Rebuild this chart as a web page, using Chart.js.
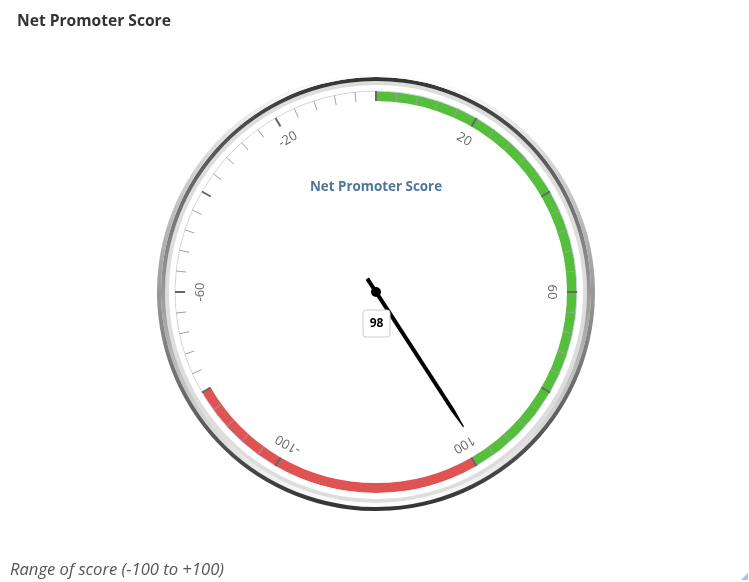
<!DOCTYPE html>
<html>
<head>
<meta charset="utf-8">
<script src="https://cdn.jsdelivr.net/npm/chart.js@4.4.1/dist/chart.umd.min.js"></script>
<style>
  html, body { margin: 0; padding: 0; background: #fff; }
  body { width: 749px; height: 582px; position: relative; overflow: hidden; font-family: "Open Sans", sans-serif; }
  #title { position: absolute; left: 17px; top: 9px; font-size: 15.6px; font-weight: bold; color: #333; }
  #caption { position: absolute; left: 10px; top: 557px; font-size: 16.6px; font-style: italic; color: #555; }
  #grip { position: absolute; left: 741px; top: 573px; width: 0; height: 0;
          border-left: 7px solid transparent; border-bottom: 7px solid #a9c2e0; }
  canvas { position: absolute; left: 0; top: 0; }
</style>
</head>
<body>
<canvas id="gauge" width="749" height="582"></canvas>
<div id="title">Net Promoter Score</div>
<div id="caption">Range of score (-100 to +100)</div>
<div id="grip"></div>
<script>
// scale
const scaleMin = -100;
const scaleMax = 100;
const paneStart = -150;
const paneEnd = 150;
const minorStep = 4;
const majorStep = 20;
const labelValues = [-100, -60, -20, 20, 60, 100];

// plot bands
const bandFrom = [0, -140];
const bandTo = [100, -80];
const bandColors = ['#55BF3B', '#DF5353'];

// the reading
const score = 98;
const gaugeTitle = 'Net Promoter Score';

// units that make a whole turn of the dial
const fullUnits = (scaleMax - scaleMin) * 360 / (paneEnd - paneStart);

function wrapPos (v) {
  const p = (v - scaleMin) % fullUnits;
  return p < 0 ? p + fullUnits : p;
}

// one slice per minor tick, plus the empty gap under the dial
function tickSlices () {
  const out = [];
  for (let v = scaleMin; v < scaleMax; v += minorStep) out.push(minorStep);
  out.push(fullUnits - (scaleMax - scaleMin));
  return out;
}

// band ring split into slices, walking round from scaleMin
function bandSlices () {
  let cuts = [0, fullUnits];
  for (let i = 0; i < bandFrom.length; i++) {
    cuts.push(wrapPos(bandFrom[i]), wrapPos(bandTo[i]));
  }
  cuts = [...new Set(cuts)].sort((a, b) => a - b);
  const values = [];
  const colors = [];
  for (let k = 0; k < cuts.length - 1; k++) {
    const a = cuts[k], b = cuts[k + 1];
    const mid = (a + b) / 2;
    let color = 'rgba(0,0,0,0)';
    for (let i = 0; i < bandFrom.length; i++) {
      const s = wrapPos(bandFrom[i]), e = wrapPos(bandTo[i]);
      const inside = s < e ? (mid > s && mid < e) : (mid > s || mid < e);
      if (inside) color = bandColors[i];
    }
    values.push(b - a);
    colors.push(color);
  }
  return {values, colors};
}

function ringGradient (top, bottom) {
  return (ctx) => {
    const area = ctx.chart.chartArea;
    if (!area) return top;
    const g = ctx.chart.ctx.createLinearGradient(0, area.top, 0, area.bottom);
    g.addColorStop(0, top);
    g.addColorStop(1, bottom);
    return g;
  };
}

const bands = bandSlices();
const clear = 'rgba(0,0,0,0)';

const gaugeDecor = {
  id: 'gaugeDecor',
  afterDatasetsDraw (chart) {
    const ctx = chart.ctx;
    const bandArc = chart.getDatasetMeta(4).data[0];
    const ticks = chart.getDatasetMeta(5).data;
    const needle = chart.getDatasetMeta(6).data[0];
    const cx = bandArc.x, cy = bandArc.y;
    const R = bandArc.outerRadius;

    ctx.save();
    // axis line
    ctx.beginPath();
    ctx.arc(cx, cy, R, ticks[0].startAngle, ticks[ticks.length - 2].endAngle);
    ctx.strokeStyle = '#ccd6eb';
    ctx.lineWidth = 1;
    ctx.stroke();

    // ticks
    for (let i = 0; i < ticks.length; i++) {
      const value = scaleMin + i * minorStep;
      const major = (value - scaleMin) % majorStep === 0;
      const a = ticks[i].startAngle;
      const len = 10;
      ctx.beginPath();
      ctx.moveTo(cx + Math.cos(a) * R, cy + Math.sin(a) * R);
      ctx.lineTo(cx + Math.cos(a) * (R - len), cy + Math.sin(a) * (R - len));
      ctx.strokeStyle = major ? '#666666' : '#a0a0a0';
      ctx.lineWidth = major ? 2 : 1;
      ctx.stroke();
    }

    // tick labels
    ctx.font = '13px "Open Sans", sans-serif';
    ctx.fillStyle = '#666';
    ctx.textAlign = 'center';
    ctx.textBaseline = 'middle';
    for (const v of labelValues) {
      const a = ticks[(v - scaleMin) / minorStep].startAngle;
      const r = R - 25;
      ctx.save();
      ctx.translate(cx + Math.cos(a) * r, cy + Math.sin(a) * r);
      ctx.rotate(a + Math.PI / 2);
      ctx.fillText(String(v), 0, 0);
      ctx.restore();
    }

    // title inside the pane
    ctx.font = 'bold 13.4px "Open Sans", sans-serif';
    ctx.fillStyle = '#4d759e';
    ctx.fillText(gaugeTitle, cx, cy - 105);

    // needle
    const a = needle.endAngle;
    ctx.save();
    ctx.translate(cx, cy);
    ctx.rotate(a);
    ctx.beginPath();
    ctx.moveTo(-16, -2);
    ctx.lineTo(R * 0.7, -2);
    ctx.lineTo(R * 0.8, -0.5);
    ctx.lineTo(R * 0.8, 0.5);
    ctx.lineTo(R * 0.7, 2);
    ctx.lineTo(-16, 2);
    ctx.closePath();
    ctx.fillStyle = '#000';
    ctx.fill();
    ctx.restore();

    // pivot
    ctx.beginPath();
    ctx.arc(cx, cy, 5, 0, Math.PI * 2);
    ctx.fillStyle = '#000';
    ctx.fill();

    // data label
    const bw = 27, bh = 27, by = cy + 31;
    ctx.beginPath();
    ctx.roundRect(cx - bw / 2 + 0.5, by - bh / 2 + 0.5, bw, bh, 3);
    ctx.fillStyle = '#fff';
    ctx.fill();
    ctx.strokeStyle = '#cccccc';
    ctx.lineWidth = 1;
    ctx.stroke();
    ctx.font = 'bold 12px "Open Sans", sans-serif';
    ctx.fillStyle = '#000';
    ctx.fillText(String(score), cx + 0.5, by + 1);
    ctx.restore();
  }
};

const common = { rotation: paneStart, circumference: 360, borderWidth: 0, hoverBorderWidth: 0, hoverOffset: 0 };

new Chart(document.getElementById('gauge'), {
  type: 'doughnut',
  data: {
    datasets: [
      { ...common, data: [1], weight: 4, backgroundColor: ringGradient('#ffffff', '#333333') },
      { ...common, data: [1], weight: 4, backgroundColor: ringGradient('#333333', '#ffffff') },
      { ...common, data: [1], weight: 4, backgroundColor: '#dddddd' },
      { ...common, data: [1], weight: 6, backgroundColor: '#ffffff' },
      { ...common, data: bands.values, weight: 10, backgroundColor: bands.colors },
      { ...common, data: tickSlices(), weight: 0, backgroundColor: clear },
      { ...common, data: [score - scaleMin, fullUnits - (score - scaleMin)], weight: 0, backgroundColor: clear }
    ]
  },
  options: {
    responsive: false,
    animation: false,
    events: [],
    cutout: (191 / 219 * 100) + '%',
    layout: { padding: { left: 157, right: 154, top: 73, bottom: 71 } },
    plugins: {
      legend: { display: false },
      tooltip: { enabled: false }
    }
  },
  plugins: [gaugeDecor]
});
</script>
</body>
</html>
